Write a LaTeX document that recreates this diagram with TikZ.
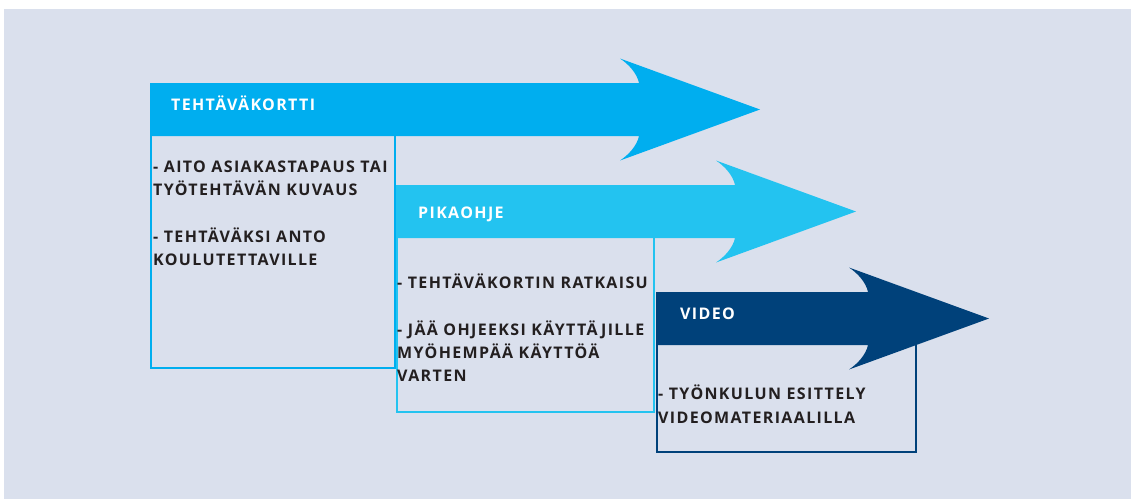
\documentclass[tikz,border=0pt]{standalone}
\usepackage{fontspec}
\newfontfamily\lbl{Open Sans}[LetterSpace=8.5]
\definecolor{bg}{RGB}{218,224,237}
\definecolor{cA}{RGB}{0,174,239}
\definecolor{cB}{RGB}{35,195,240}
\definecolor{cC}{RGB}{0,65,122}
\definecolor{txt}{RGB}{35,31,32}
\tikzset{
  hdr/.style={anchor=base west,inner sep=0pt,text=white,font=\lbl\bfseries\fontsize{16}{23}\selectfont},
  body/.style={anchor=base west,inner sep=0pt,text=txt,font=\lbl\bfseries\fontsize{16}{23}\selectfont},
  boxline/.style={line width=2pt}
}
% #1 left x, #2 center y, #3 tip x, #4 colour
\newcommand{\bigarrow}[4]{%
  \fill[#4] (#1,#2-26.5) -- (#3-121,#2-26.5)
     .. controls (#3-123,#2-36) and (#3-131,#2-45) .. (#3-140,#2-51)
     -- (#3,#2) -- (#3-140,#2+51)
     .. controls (#3-131,#2+45) and (#3-123,#2+36) .. (#3-121,#2+26.5)
     -- (#1,#2+26.5) -- cycle;
}
\begin{document}
\begin{tikzpicture}[x=1pt,y=-1pt]
\useasboundingbox (0,0) rectangle (1131,499);
\fill[white] (0,0) rectangle (1131,499);
\fill[bg] (4,9) rectangle (1131,499);
% arrow 1
\bigarrow{150}{109.5}{760}{cA}
\draw[boxline,cA] (151,136) -- (151,368) -- (395,368) -- (395,136);
\node[hdr] (h1) at (171,110) {TEHTÄVÄKORTTI};
\node[body] (t1a) at (153,172) {- AITO ASIAKASTAPAUS TAI};
\node[body] (t1b) at (153,195) {TYÖTEHTÄVÄN KUVAUS};
\node[body] (t1c) at (153,242) {- TEHTÄVÄKSI ANTO};
\node[body] (t1d) at (153,265) {KOULUTETTAVILLE};
% arrow 2
\bigarrow{396}{211.5}{856}{cB}
\draw[boxline,cB] (396.5,238) -- (396.5,412) -- (654,412) -- (654,238);
\node[hdr] (h2) at (418,218) {PIKAOHJE};
\node[body] (t2a) at (397,288) {- TEHTÄVÄKORTIN RATKAISU};
\node[body] (t2b) at (397,335) {- JÄÄ OHJEEKSI KÄYTTÄJILLE};
\node[body] (t2c) at (397,358) {MYÖHEMPÄÄ KÄYTTÖÄ};
\node[body] (t2d) at (397,381) {VARTEN};
% arrow 3
\draw[boxline,cC,line width=2.5pt] (657,345) -- (657,452) -- (916,452) -- (916,345);
\bigarrow{656}{318.5}{989}{cC}
\node[hdr] (h3) at (680,319) {VIDEO};
\node[body] (t3a) at (658,399) {- TYÖNKULUN ESITTELY};
\node[body] (t3b) at (658,423) {VIDEOMATERIAALILLA};
\end{tikzpicture}
\end{document}
